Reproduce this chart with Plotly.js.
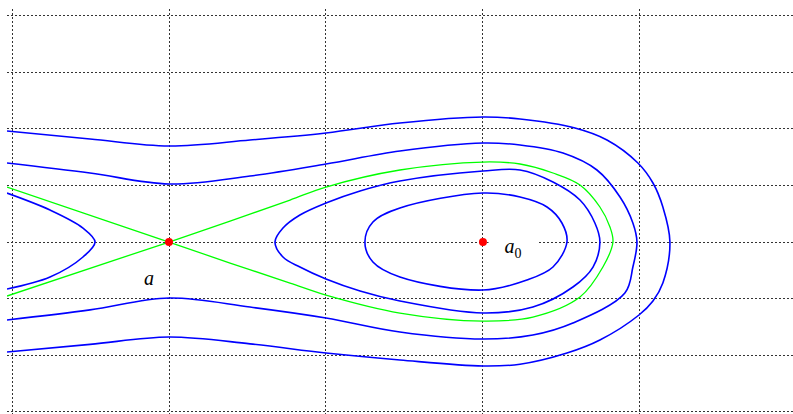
<!DOCTYPE html>
<html>
<head>
<meta charset="utf-8">
<script src="https://cdn.plot.ly/plotly-3.0.1.min.js"></script>
<style>html,body{margin:0;padding:0;background:#fff;}#chart{width:793px;height:414px;}</style>
</head>
<body>
<div id="chart"></div>
<script>
// Outer blue orbit (open, from upper-left around to lower-left)
var c1x = [-0.032, 0.497, 1.0, 1.516, 2.0, 2.471, 3.0, 3.236, 3.586, 3.790, 3.987, 4.083, 4.146, 4.191,
           4.146, 4.083, 3.994, 3.745, 3.535, 3.236, 3.0, 2.471, 2.0, 1.516, 1.0, 0.497, -0.032];
var c1y = [1.962, 1.821, 1.697, 1.803, 1.927, 2.104, 2.210, 2.174, 2.015, 1.803, 1.396, 1.043, 0.619, 0.0,
           -0.725, -1.043, -1.290, -1.732, -1.962, -2.160, -2.192, -2.086, -1.962, -1.800, -1.679, -1.810, -1.944];
// Second blue orbit
var c2x = [-0.032, 0.497, 1.0, 1.516, 2.0, 2.471, 3.0, 3.236, 3.510, 3.726, 3.873, 3.955, 3.981,
           3.955, 3.904, 3.573, 3.318, 3.0, 2.471, 2.0, 1.516, 1.0, 0.497, -0.032];
var c2y = [1.397, 1.220, 1.025, 1.167, 1.379, 1.609, 1.750, 1.715, 1.573, 1.273, 0.795, 0.336, 0.0,
           -0.442, -0.902, -1.432, -1.644, -1.715, -1.591, -1.343, -1.150, -0.990, -1.200, -1.379];
// Green separatrix (homoclinic loop through the saddle a)
var gx = [-0.032, 1.0, 1.389, 1.771, 2.0, 2.471, 3.0, 3.318, 3.618, 3.764, 3.828,
          3.809, 3.745, 3.618, 3.446, 3.236, 3.0, 2.471, 2.0, 1.771, 1.389, 1.0, -0.032];
var gy = [0.972, 0.0, -0.371, -0.725, -0.937, -1.255, -1.397, -1.326, -0.972, -0.442, 0.0,
          0.265, 0.619, 1.008, 1.220, 1.379, 1.414, 1.273, 0.972, 0.742, 0.371, 0.0, -0.955];
// Third blue orbit (closed around a0)
var c3x = [1.675, 1.726, 1.834, 2.0, 2.217, 2.471, 3.0, 3.236, 3.446, 3.618, 3.713, 3.745,
           3.701, 3.573, 3.318, 3.0, 2.471, 2.217, 2.0, 1.834, 1.726, 1.675];
var c3y = [0.0, 0.247, 0.477, 0.689, 0.902, 1.078, 1.255, 1.273, 1.061, 0.742, 0.336, 0.0,
           -0.442, -0.795, -1.149, -1.255, -1.043, -0.866, -0.654, -0.442, -0.265, 0.0];
// Innermost blue orbit
var c4x = [2.248, 2.299, 2.471, 3.0, 3.236, 3.408, 3.503, 3.535,
           3.446, 3.280, 3.0, 2.471, 2.299, 2.248];
var c4y = [0.0, 0.354, 0.601, 0.866, 0.795, 0.619, 0.336, 0.0,
           -0.442, -0.672, -0.849, -0.619, -0.354, 0.0];
// Blue orbit left of the saddle
var c5x = [-0.032, 0.242, 0.452, 0.529, 0.452, 0.242, -0.032];
var c5y = [0.866, 0.566, 0.247, 0.0, -0.265, -0.619, -0.831];
// Equilibrium points
var eqX = [1, 3];
var eqY = [0, 0];
var eqLabels = ['<i>a</i>', '<i>a</i><sub>0</sub>'];

var blue = {color: '#0000ff', width: 1.6, shape: 'spline', smoothing: 1};
function curve(x, y, line) {
  return {x: x, y: y, mode: 'lines', line: line, hoverinfo: 'skip', showlegend: false};
}
var traces = [
  curve(c1x, c1y, blue),
  curve(c2x, c2y, blue),
  curve(c3x, c3y, blue),
  curve(c4x, c4y, blue),
  curve(c5x, c5y, blue),
  curve(gx, gy, {color: '#00ff00', width: 1.3, shape: 'spline', smoothing: 1}),
  {x: eqX, y: eqY, mode: 'markers', marker: {color: '#ff0000', size: 8}, showlegend: false}
];

var axisCommon = {
  showgrid: true, gridcolor: '#333333', gridwidth: 1, griddash: '2px,2px',
  zeroline: false, showline: false, showticklabels: false, ticks: '', dtick: 1, tick0: 0
};
var layout = {
  width: 793, height: 414,
  margin: {l: 7, r: 0, t: 9, b: 0},
  paper_bgcolor: '#ffffff', plot_bgcolor: '#ffffff',
  xaxis: Object.assign({range: [-0.032, 4.975]}, axisCommon),
  yaxis: Object.assign({range: [-3.04, 4.119]}, axisCommon),
  annotations: [
    {x: 0.873, y: -0.64, xref: 'x', yref: 'y', text: eqLabels[0], showarrow: false,
     font: {family: 'Liberation Serif', size: 20, color: '#000'}},
    {x: 3.191, y: -0.10, xref: 'x', yref: 'y', text: eqLabels[1], showarrow: false,
     font: {family: 'Liberation Serif', size: 20, color: '#000'},
     bgcolor: '#ffffff', width: 46, height: 24}
  ]
};
Plotly.newPlot('chart', traces, layout, {displayModeBar: false});
</script>
</body>
</html>
